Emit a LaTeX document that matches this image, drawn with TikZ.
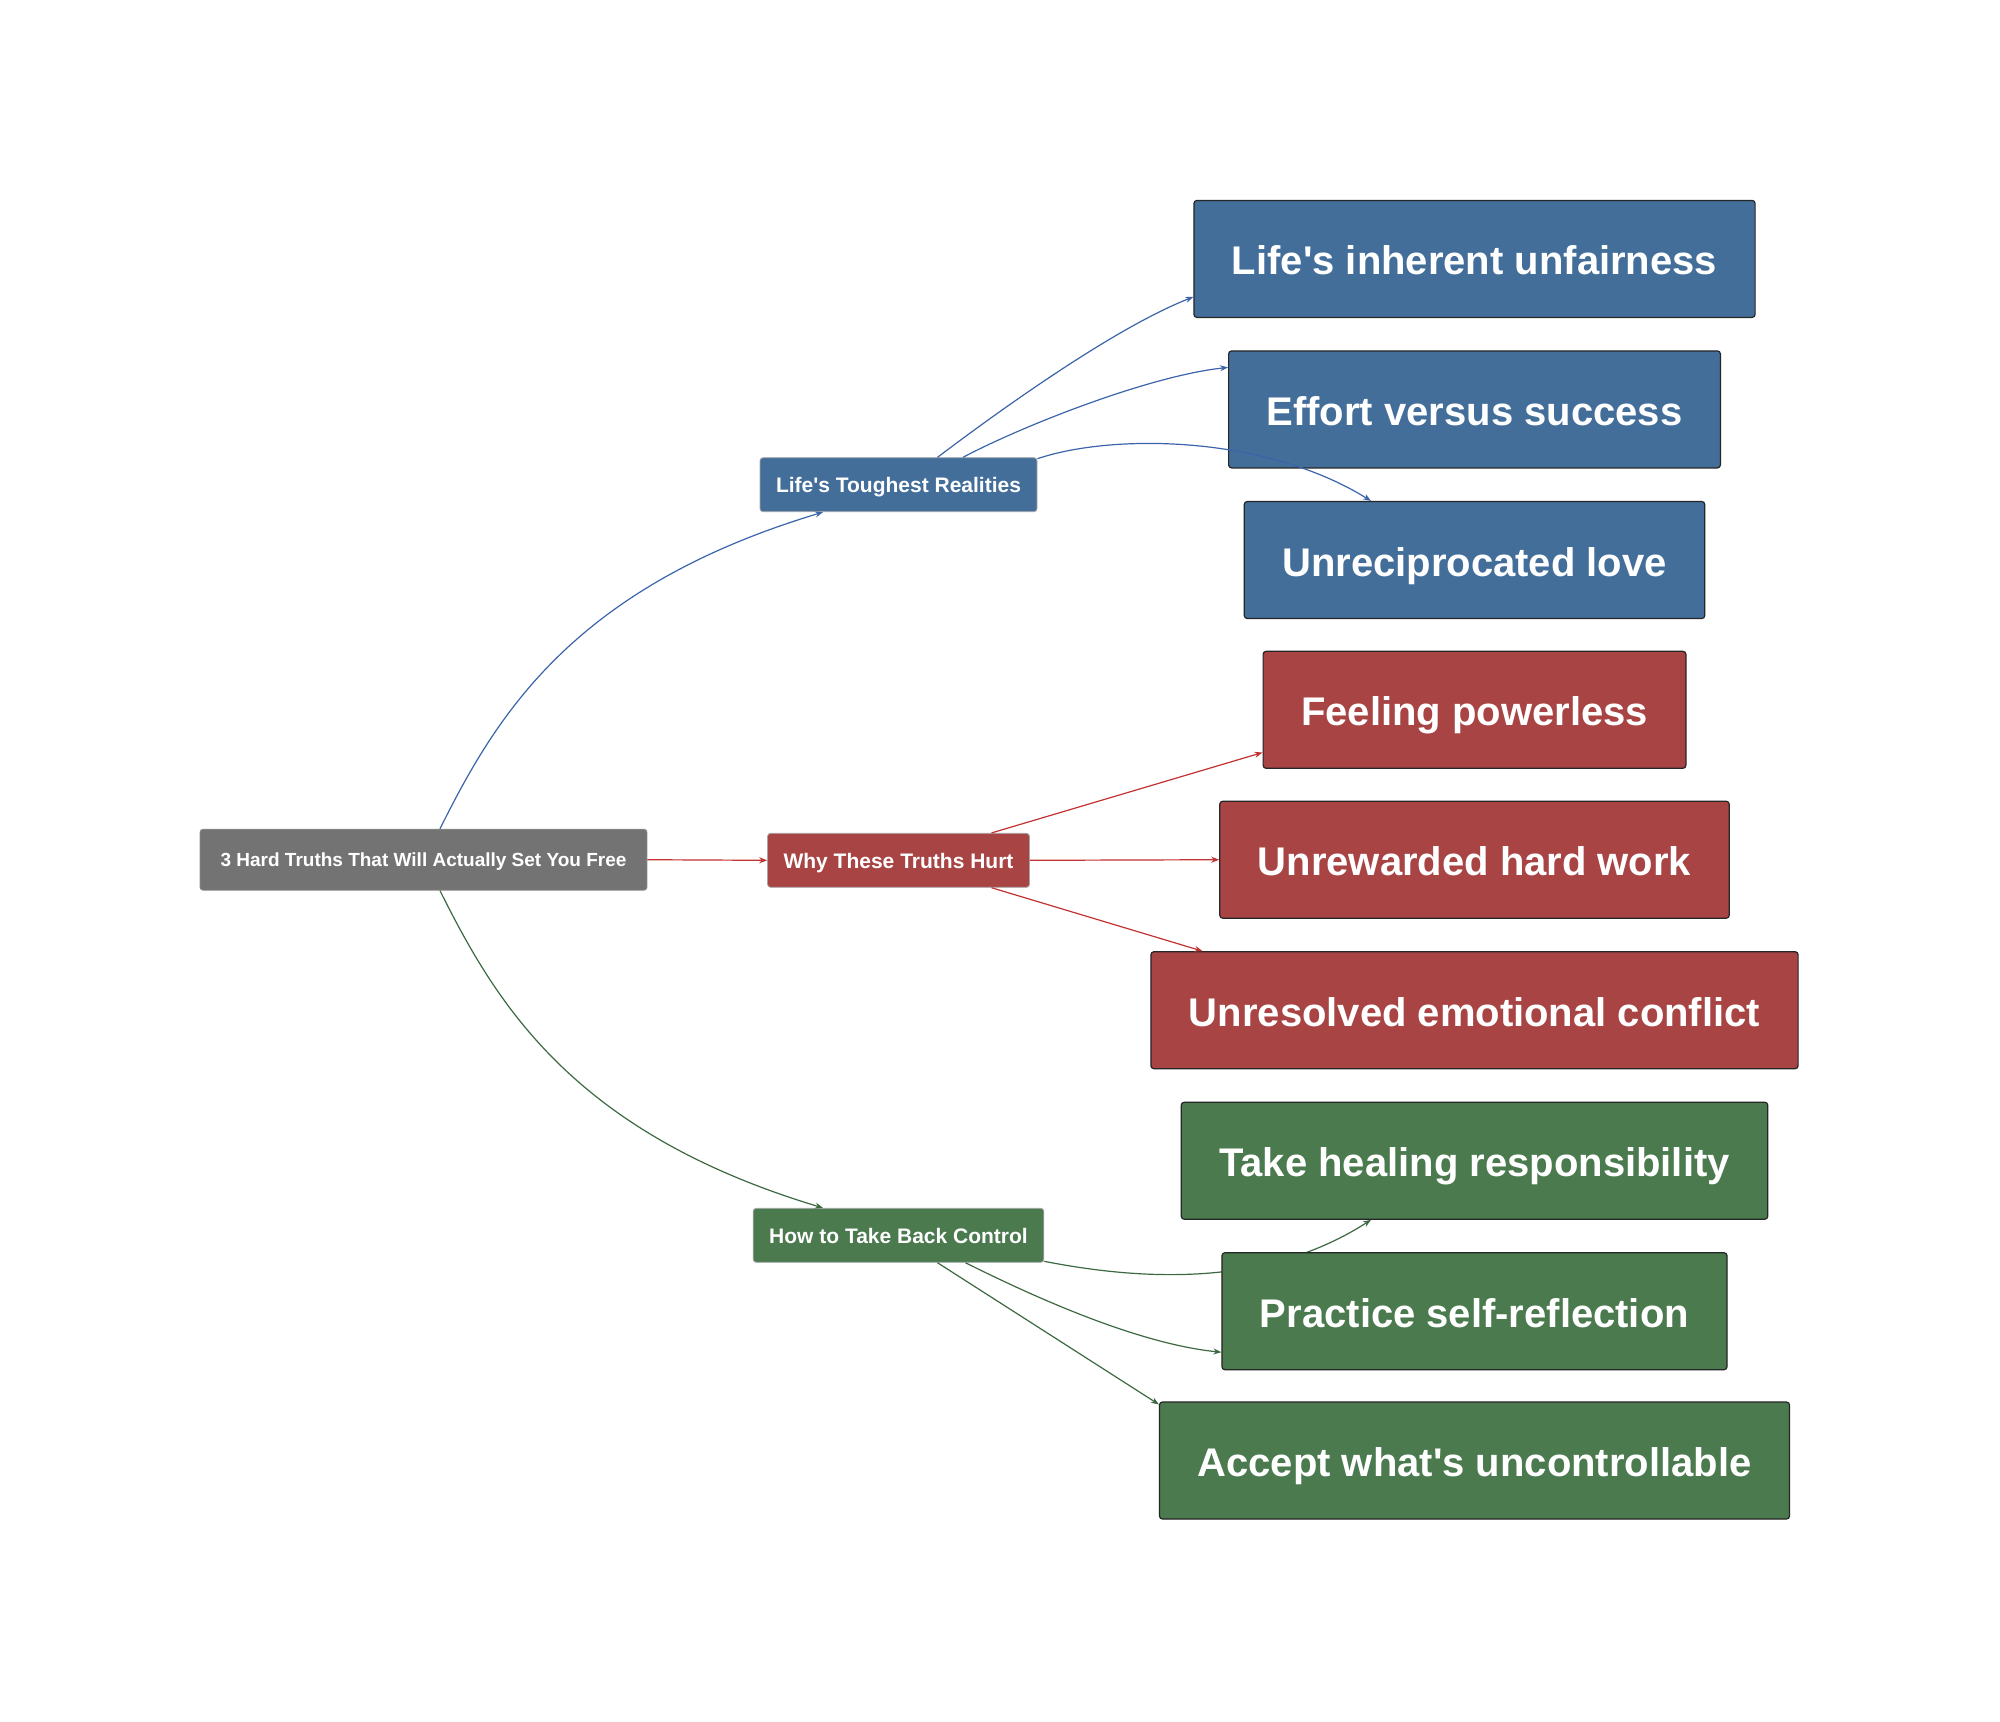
\documentclass[tikz,border=0pt]{standalone}
\usepackage{fontspec}
\setmainfont{Liberation Sans}
\usetikzlibrary{arrows.meta,calc}
\definecolor{cblue}{RGB}{67,110,153}
\definecolor{cred}{RGB}{168,68,68}
\definecolor{cgreen}{RGB}{74,122,78}
\definecolor{cgray}{RGB}{115,115,115}
\definecolor{eblue}{RGB}{60,100,170}
\definecolor{ered}{RGB}{195,50,50}
\definecolor{egreen}{RGB}{60,105,65}
\newcommand{\aq}{\textquotesingle}
\begin{document}
\begin{tikzpicture}[x=0.5pt,y=-0.5pt,
  box/.style={rectangle, rounded corners=1.5pt, text=white, inner sep=0pt, anchor=center, text depth=0pt},
  leafbox/.style={box, draw=black!85, line width=0.6pt, font=\bfseries\fontsize{20}{24}\selectfont, inner xsep=19pt, minimum height=58.5pt, text height=16pt},
  midbox/.style={box, draw=black!35, line width=0.4pt, font=\bfseries\fontsize{10.5}{12.6}\selectfont, inner xsep=8pt, minimum height=27pt, text height=7.7pt},
  rootbox/.style={box, fill=cgray, draw=black!45, line width=0.4pt, font=\bfseries\fontsize{9.5}{11.4}\selectfont, inner xsep=10.25pt, minimum height=30.5pt, text height=7.2pt},
  edge/.style={line width=0.6pt, -{Stealth[length=4pt,width=3pt]}}
]
\useasboundingbox[fill=white] (0,0) rectangle (2000,1721);
% nodes
\node[rootbox] (root) at (423.5,859.7) {3 Hard Truths That Will Actually Set You Free};
\node[midbox, fill=cblue] (ltr) at (898.5,484.7) {Life\aq s Toughest Realities};
\node[midbox, fill=cred] (why) at (898.5,860.3) {Why These Truths Hurt};
\node[midbox, fill=cgreen] (how) at (898.5,1235.3) {How to Take Back Control};
\node[leafbox, fill=cblue] (l1) at (1474.5,258.9) {Life\aq s inherent unfairness};
\node[leafbox, fill=cblue] (l2) at (1474.5,409.4) {Effort versus success};
\node[leafbox, fill=cblue] (l3) at (1474.5,560.0) {Unreciprocated love};
\node[leafbox, fill=cred] (l4) at (1474.5,709.8) {Feeling powerless};
\node[leafbox, fill=cred] (l5) at (1474.5,859.7) {Unrewarded hard work};
\node[leafbox, fill=cred] (l6) at (1474.5,1010.2) {Unresolved emotional conflict};
\node[leafbox, fill=cgreen] (l7) at (1474.5,1160.7) {Take healing responsibility};
\node[leafbox, fill=cgreen] (l9) at (1474.5,1460.5) {Accept what\aq s uncontrollable};
% edges
\draw[edge, eblue] ($(root.north)+(16.5,0)$) .. controls (497,714) and (574,587) .. ($(ltr.south)+(-75.5,0)$);
\draw[edge, ered] (root.east) -- (why.west);
\draw[edge, egreen] ($(root.south)+(16.5,0)$) .. controls (497,1005) and (574,1133) .. ($(how.north)+(-75.5,0)$);
\draw[edge, eblue] ($(ltr.north)+(39,0)$) .. controls (1020,395) and (1122,325) .. ($(l1.west)+(0,38)$);
\draw[edge, eblue] ($(ltr.north)+(64.5,0)$) .. controls (1020,427) and (1148,376) .. ($(l2.west)+(0,-42)$);
\draw[edge, eblue] ($(ltr.east)+(0,-26)$) .. controls (1110,434) and (1263,434) .. ($(l3.north)+(-103.5,0)$);
\draw[edge, ered] ($(why.north)+(93,0)$) -- ($(l4.west)+(0,42.7)$);
\draw[edge, ered] (why.east) -- (l5.west);
\draw[edge, ered] ($(why.south)+(93,0)$) -- ($(l6.north)+(-272,0)$);
\draw[edge, egreen] ($(how.east)+(0,26)$) .. controls (1150,1282) and (1270,1285) .. ($(l7.south)+(-103.5,0)$);
\draw[edge, egreen] ($(how.south)+(39,0)$) -- ($(l9.north west)+(0,3)$);
\node[leafbox, fill=cgreen] (l8) at (1474.5,1311.2) {Practice self-reflection};
\draw[edge, egreen] ($(how.south)+(67,0)$) .. controls (1060,1310) and (1150,1345) .. ($(l8.west)+(0,41)$);
\end{tikzpicture}
\end{document}
